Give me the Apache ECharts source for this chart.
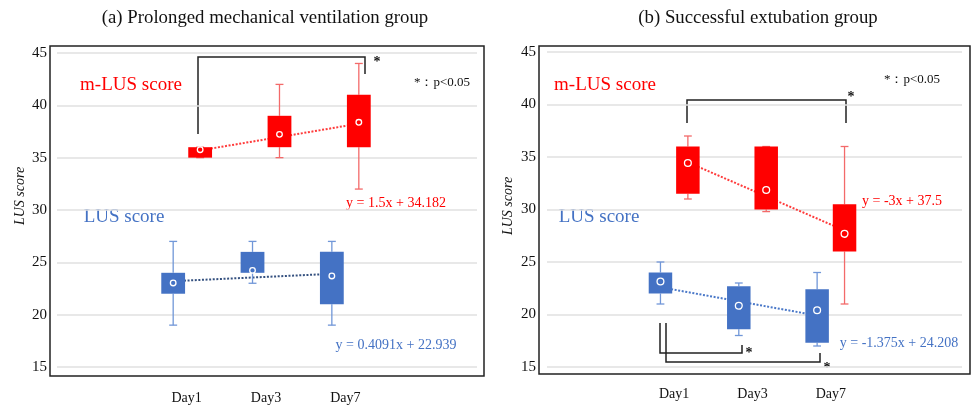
<!DOCTYPE html>
<html>
<head>
<meta charset="utf-8">
<script src="https://cdn.jsdelivr.net/npm/echarts@6/dist/echarts.min.js"></script>
<style>
html, body { margin: 0; padding: 0; background: #fff; }
#main { width: 974px; height: 409px; }
</style>
</head>
<body>
<div id="main"></div>
<script>
// categories
var days = ['Day1', 'Day3', 'Day7'];

// box stats per day: [min, Q1, Q3, max, mean]
var mlusA = [[35, 35, 36, 36, 35.76], [35, 36, 39, 42, 37.23], [32, 36, 41, 44, 38.38]];
var lusA = [[19, 22, 24, 27, 23.03], [23, 24, 26, 27, 24.23], [19, 21, 26, 27, 23.7]];
var mlusB = [[31, 31.5, 36, 37, 34.43], [29.8, 30, 36, 36, 31.85], [21, 26, 30.5, 36, 27.68]];
var lusB = [[21, 22, 24, 25, 23.15], [18, 18.6, 22.7, 23, 20.83], [17, 17.3, 22.4, 24, 20.41]];

// trend line values at Day1, Day3, Day7
var trendMlusA = [35.7, 36.97, 38.25];
var trendLusA = [23.2, 23.55, 23.9];
var trendMlusB = [34.5, 31.25, 28.0];
var trendLusB = [22.6, 21.25, 19.9];

var serif = "'Liberation Serif', 'Times New Roman', serif";
var RED = '#ff0000', BLUE = '#4472c4';

var myChart = echarts.init(document.getElementById('main'));

function toData(stats) {
    return stats.map(function (s, i) { return [i].concat(s); });
}
function toSegments(vals) {
    var out = [];
    for (var i = 0; i < vals.length - 1; i++) out.push([i, vals[i], vals[i + 1]]);
    return out;
}

// box + whiskers + mean ring
function boxRender(offset, fill, whisker, ring) {
    return function (params, api) {
        var i = api.value(0);
        var band = api.size([1, 0])[0];
        var x = api.coord([i, 0])[0] + band * offset;
        var w = band * 0.3, cap = band * 0.05;
        var yMin = api.coord([i, api.value(1)])[1];
        var yQ1 = api.coord([i, api.value(2)])[1];
        var yQ3 = api.coord([i, api.value(3)])[1];
        var yMax = api.coord([i, api.value(4)])[1];
        var yMean = api.coord([i, api.value(5)])[1];
        var ws = { stroke: whisker, lineWidth: 1.3 };
        return {
            type: 'group',
            children: [
                { type: 'line', shape: { x1: x, y1: yMax, x2: x, y2: yQ3 }, style: ws },
                { type: 'line', shape: { x1: x, y1: yQ1, x2: x, y2: yMin }, style: ws },
                { type: 'line', shape: { x1: x - cap, y1: yMax, x2: x + cap, y2: yMax }, style: ws },
                { type: 'line', shape: { x1: x - cap, y1: yMin, x2: x + cap, y2: yMin }, style: ws },
                { type: 'rect', shape: { x: x - w / 2, y: yQ3, width: w, height: yQ1 - yQ3 }, style: { fill: fill } },
                { type: 'circle', shape: { cx: x, cy: yMean, r: ring }, style: { fill: 'none', stroke: '#fff', lineWidth: 1.3 } }
            ]
        };
    };
}

// dotted trend segment
function trendRender(offset, color) {
    return function (params, api) {
        var i = api.value(0);
        var band = api.size([1, 0])[0];
        var p0 = api.coord([i, api.value(1)]);
        var p1 = api.coord([i + 1, api.value(2)]);
        return {
            type: 'line',
            shape: { x1: p0[0] + band * offset, y1: p0[1], x2: p1[0] + band * offset, y2: p1[1] },
            style: { stroke: color, lineWidth: 2, lineDash: [2, 1.6] }
        };
    };
}

function bgY(grid, margin) {
    return {
        gridIndex: grid, type: 'value', min: 15, max: 45, interval: 5,
        axisLine: { show: false }, axisTick: { show: false },
        axisLabel: { margin: margin, fontSize: 15, fontFamily: serif, color: '#111' },
        splitLine: { lineStyle: { color: '#e0e0e0', width: 1.5 } }
    };
}
function dataY(grid) {
    return { gridIndex: grid, type: 'value', min: 15, max: 45, show: false };
}
function dayX(grid, margin) {
    return {
        gridIndex: grid, type: 'category', data: days,
        axisLine: { show: false }, axisTick: { show: false }, splitLine: { show: false },
        axisLabel: { margin: margin, fontSize: 14, fontFamily: serif, color: '#111' }
    };
}

function txt(x, y, s, size, color, extra) {
    var o = {
        type: 'text', x: x, y: y,
        style: { text: s, fontSize: size, fontFamily: serif, fill: color, textAlign: 'center', textVerticalAlign: 'middle' }
    };
    if (extra) for (var k in extra) o.style[k] = extra[k];
    return o;
}
function poly(pts) {
    return { type: 'polyline', shape: { points: pts }, style: { stroke: '#222', lineWidth: 1.5, fill: null } };
}

var option = {
    animation: false,
    grid: [
        { left: 57, right: 497, top: 53, bottom: 42 },
        { left: 147, width: 238, top: 53, bottom: 42 },
        { left: 547, right: 12, top: 52, bottom: 42 },
        { left: 635, width: 235, top: 52, bottom: 42 }
    ],
    xAxis: [
        { gridIndex: 0, type: 'value', min: 0, max: 1, show: false },
        dayX(1, 24),
        { gridIndex: 2, type: 'value', min: 0, max: 1, show: false },
        dayX(3, 20)
    ],
    yAxis: [bgY(0, 10), dataY(1), bgY(2, 11), dataY(3)],
    series: [
        { type: 'custom', xAxisIndex: 1, yAxisIndex: 1, z: 2, renderItem: trendRender(0.17, '#ff3b3b'), data: toSegments(trendMlusA) },
        { type: 'custom', xAxisIndex: 1, yAxisIndex: 1, z: 2, renderItem: trendRender(-0.17, '#34507f'), data: toSegments(trendLusA) },
        { type: 'custom', xAxisIndex: 1, yAxisIndex: 1, z: 3, renderItem: boxRender(0.17, RED, '#f36a6a', 2.8), data: toData(mlusA) },
        { type: 'custom', xAxisIndex: 1, yAxisIndex: 1, z: 3, renderItem: boxRender(-0.17, BLUE, '#7197d8', 2.8), data: toData(lusA) },
        { type: 'custom', xAxisIndex: 3, yAxisIndex: 3, z: 2, renderItem: trendRender(0.175, '#ff3b3b'), data: toSegments(trendMlusB) },
        { type: 'custom', xAxisIndex: 3, yAxisIndex: 3, z: 2, renderItem: trendRender(-0.175, '#4a78c8'), data: toSegments(trendLusB) },
        { type: 'custom', xAxisIndex: 3, yAxisIndex: 3, z: 3, renderItem: boxRender(0.175, RED, '#f36a6a', 3.4), data: toData(mlusB) },
        { type: 'custom', xAxisIndex: 3, yAxisIndex: 3, z: 3, renderItem: boxRender(-0.175, BLUE, '#7197d8', 3.4), data: toData(lusB) }
    ],
    graphic: [
        // frames
        { type: 'rect', shape: { x: 50, y: 46, width: 434, height: 330 }, style: { fill: null, stroke: '#222', lineWidth: 1.5 } },
        { type: 'rect', shape: { x: 539, y: 46, width: 431, height: 328 }, style: { fill: null, stroke: '#222', lineWidth: 1.5 } },
        // titles
        txt(265, 18, '(a) Prolonged mechanical ventilation group', 18.8, '#111'),
        txt(758, 18, '(b) Successful extubation group', 18.8, '#111'),
        // axis names
        { type: 'text', x: 20, y: 196, rotation: Math.PI / 2,
          style: { text: 'LUS score', fontSize: 14, fontStyle: 'italic', fontFamily: serif, fill: '#111', textAlign: 'center', textVerticalAlign: 'middle' } },
        { type: 'text', x: 508, y: 206, rotation: Math.PI / 2,
          style: { text: 'LUS score', fontSize: 14, fontStyle: 'italic', fontFamily: serif, fill: '#111', textAlign: 'center', textVerticalAlign: 'middle' } },
        // group labels
        txt(131, 85, 'm-LUS score', 19, RED),
        txt(124, 217, 'LUS score', 19, BLUE),
        txt(605, 85, 'm-LUS score', 19, RED),
        txt(599, 217, 'LUS score', 19, BLUE),
        // p legend
        txt(442, 83, '*：p<0.05', 13, '#111'),
        txt(912, 80, '*：p<0.05', 13, '#111'),
        // regression equations
        txt(396, 203, 'y = 1.5x + 34.182', 14, RED),
        txt(396, 345, 'y = 0.4091x + 22.939', 14, BLUE),
        txt(902, 201, 'y = -3x + 37.5', 14, RED),
        txt(899, 343, 'y = -1.375x + 24.208', 14, BLUE),
        // significance brackets
        poly([[198, 134], [198, 57], [365, 57], [365, 74]]),
        txt(377, 62, '*', 14, '#111', { fontWeight: 'bold' }),
        poly([[687, 123], [687, 100], [846, 100], [846, 123]]),
        txt(851, 97, '*', 14, '#111', { fontWeight: 'bold' }),
        poly([[660, 323], [660, 353], [742, 353], [742, 345]]),
        txt(749, 353, '*', 14, '#111', { fontWeight: 'bold' }),
        poly([[666, 323], [666, 362], [820, 362], [820, 353]]),
        txt(827, 368, '*', 14, '#111', { fontWeight: 'bold' })
    ]
};

myChart.setOption(option);
</script>
</body>
</html>
